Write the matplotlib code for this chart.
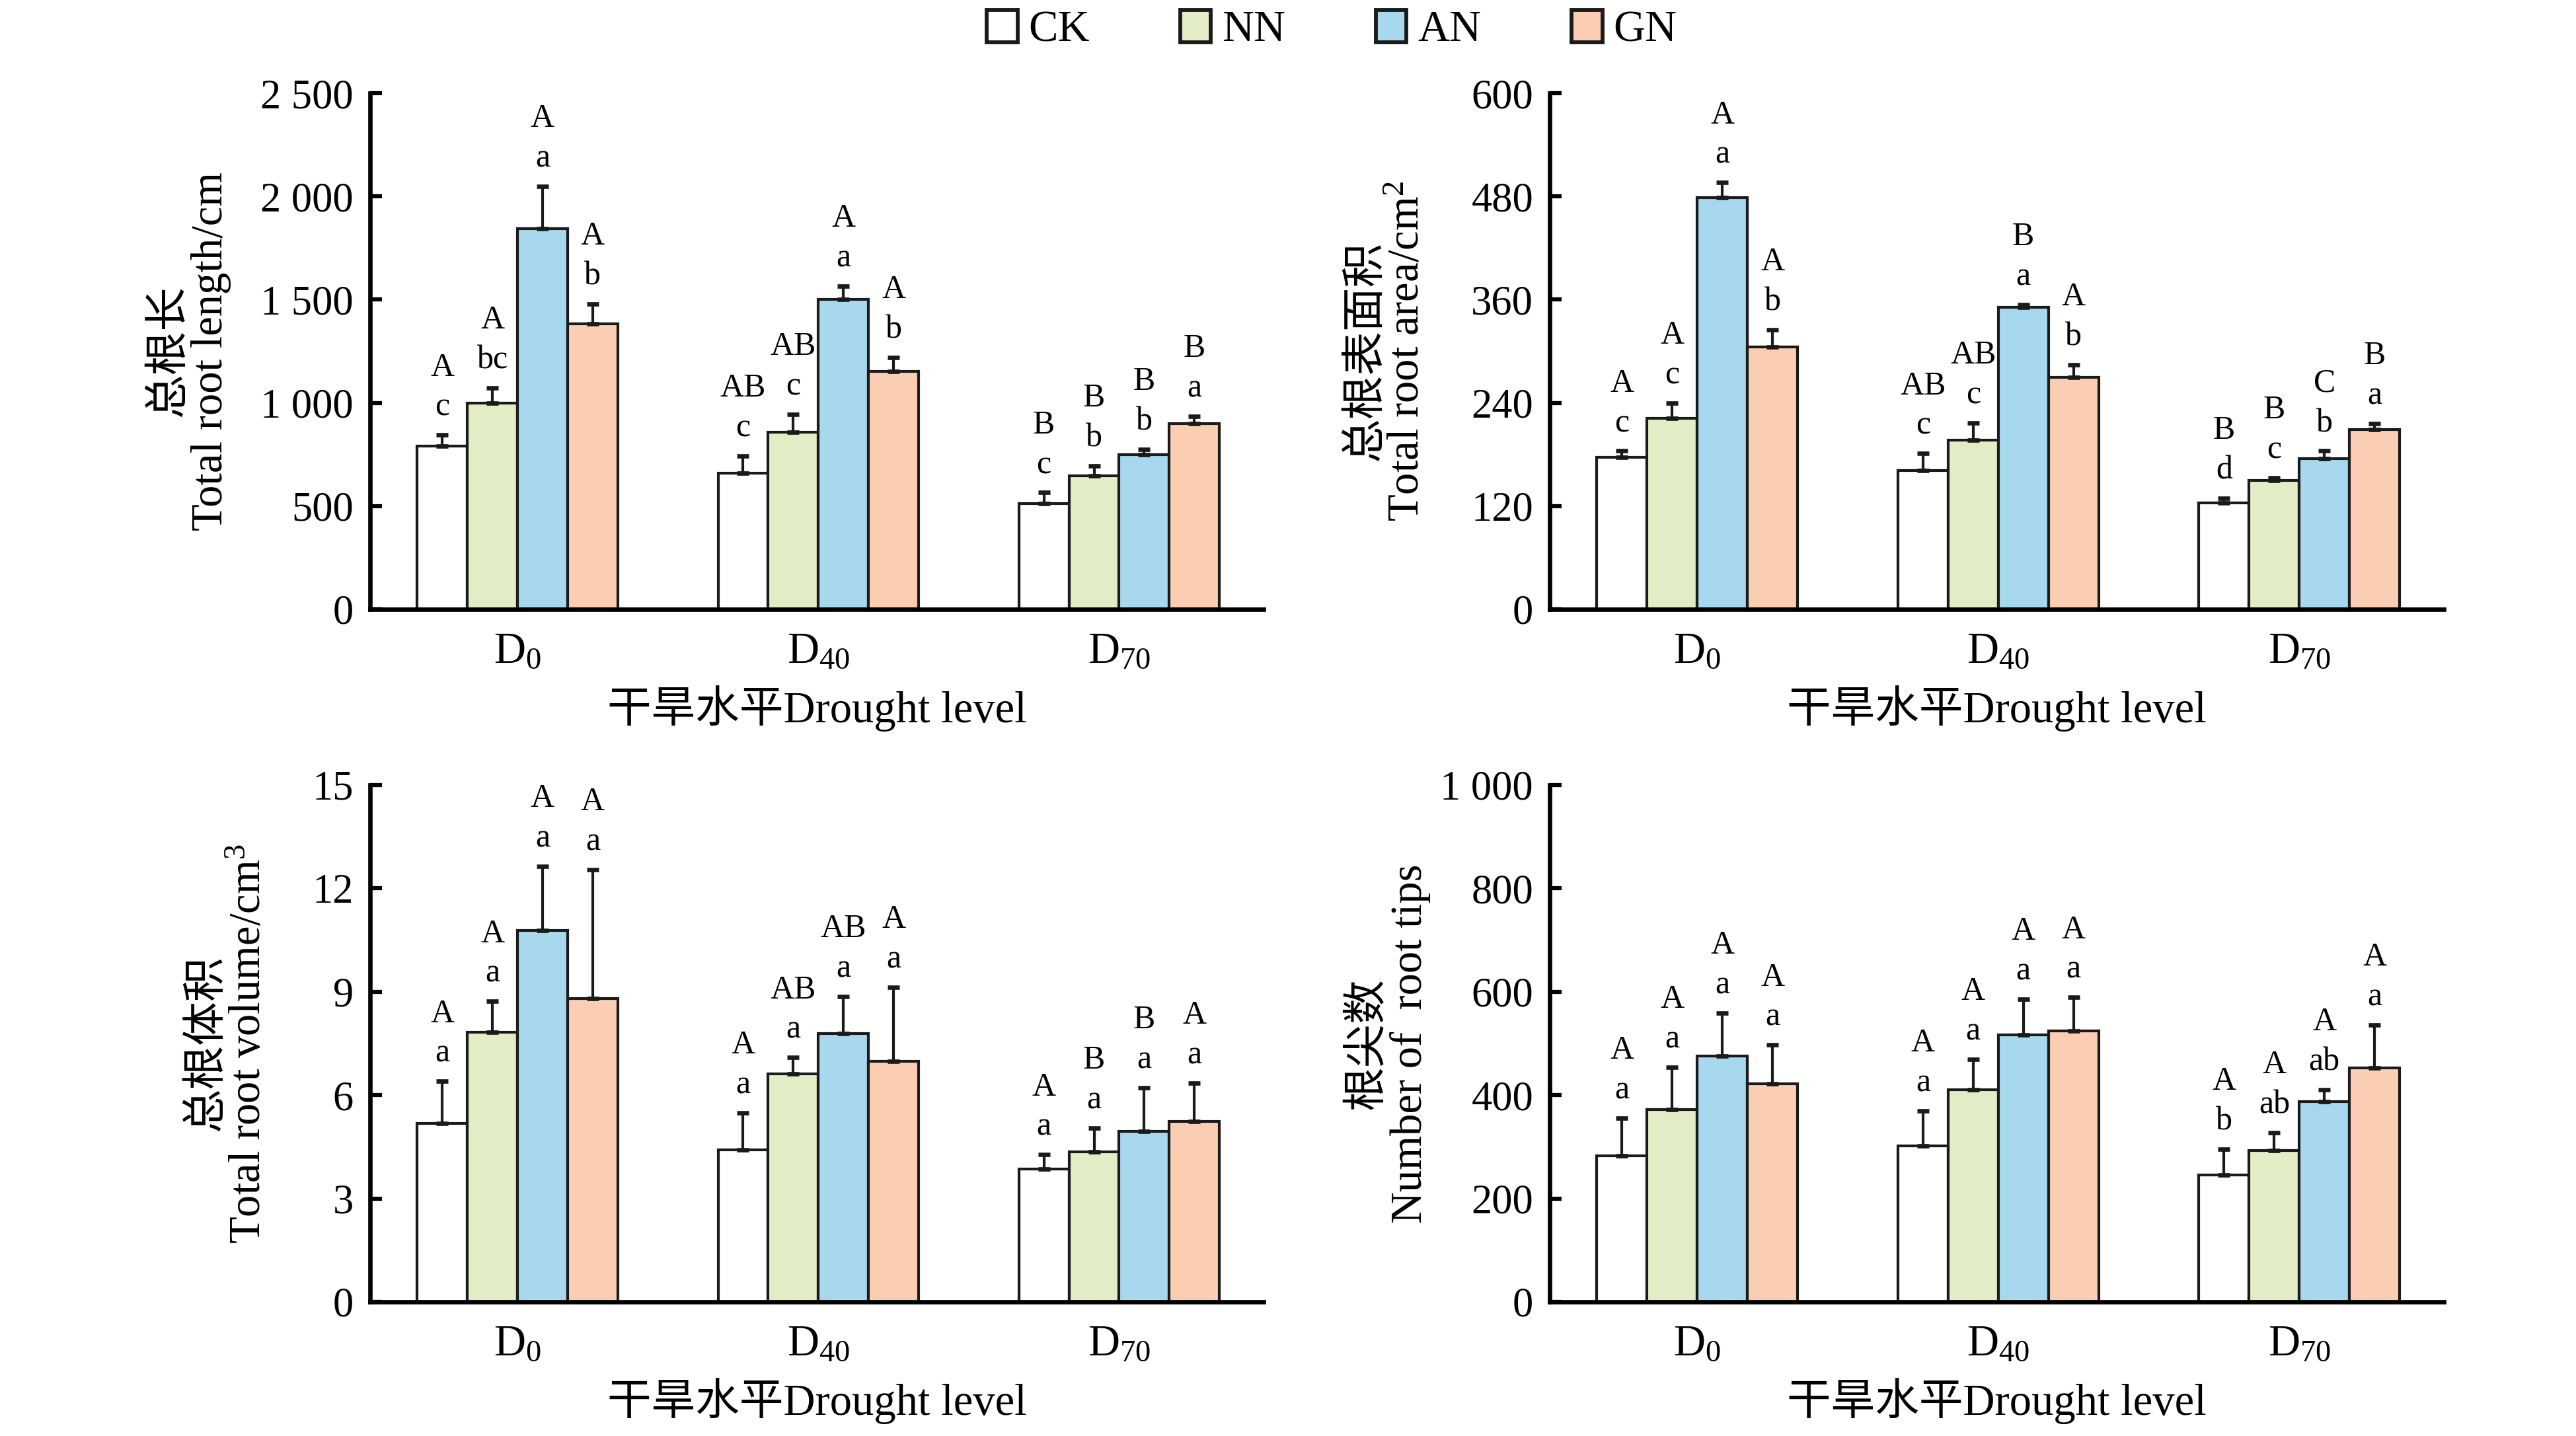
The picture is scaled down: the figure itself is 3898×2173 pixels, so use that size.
import numpy as np
import matplotlib
matplotlib.use("Agg")
import matplotlib.pyplot as plt
from matplotlib.patches import Patch
from matplotlib.ticker import FuncFormatter

plt.rcParams['font.family'] = ['Liberation Serif', 'Noto Sans CJK SC']
plt.rcParams['mathtext.fontset'] = 'custom'
plt.rcParams['mathtext.rm'] = 'Liberation Serif'
plt.rcParams['mathtext.it'] = 'Liberation Serif:italic'

levels = ["D$_{0}$", "D$_{40}$", "D$_{70}$"]
treatments = ["CK", "NN", "AN", "GN"]
colors = ["#FFFFFF", "#E3EDC5", "#A8D8EE", "#FBCDB3"]

# total root length (cm)
length_mean = {"CK": [791, 661, 513], "NN": [1000, 858, 647],
               "AN": [1844, 1501, 748], "GN": [1383, 1153, 899]}
length_err = {"CK": [53, 82, 52], "NN": [73, 87, 49],
              "AN": [204, 65, 26], "GN": [96, 68, 37]}
length_up = {"CK": ["A", "AB", "B"], "NN": ["A", "AB", "B"],
             "AN": ["A", "A", "B"], "GN": ["A", "A", "B"]}
length_low = {"CK": ["c", "c", "c"], "NN": ["bc", "c", "b"],
              "AN": ["a", "a", "b"], "GN": ["b", "b", "a"]}

# total root area (cm2)
area_mean = {"CK": [177, 161, 124], "NN": [222, 197, 150],
             "AN": [479, 351, 175], "GN": [305, 270, 209]}
area_err = {"CK": [7, 20, 5], "NN": [18, 20, 3],
            "AN": [17, 3, 9], "GN": [20, 14, 7]}
area_up = {"CK": ["A", "AB", "B"], "NN": ["A", "AB", "B"],
           "AN": ["A", "B", "C"], "GN": ["A", "A", "B"]}
area_low = {"CK": ["c", "c", "d"], "NN": ["c", "c", "c"],
            "AN": ["a", "a", "b"], "GN": ["b", "b", "a"]}

# total root volume (cm3)
volume_mean = {"CK": [5.18, 4.42, 3.85], "NN": [7.82, 6.61, 4.35],
               "AN": [10.78, 7.79, 4.94], "GN": [8.80, 6.98, 5.23]}
volume_err = {"CK": [1.22, 1.07, 0.42], "NN": [0.90, 0.48, 0.70],
              "AN": [1.87, 1.07, 1.28], "GN": [3.75, 2.16, 1.12]}
volume_up = {"CK": ["A", "A", "A"], "NN": ["A", "AB", "B"],
             "AN": ["A", "AB", "B"], "GN": ["A", "A", "A"]}
volume_low = {"CK": ["a", "a", "a"], "NN": ["a", "a", "a"],
              "AN": ["a", "a", "a"], "GN": ["a", "a", "a"]}

# number of root tips
tips_mean = {"CK": [283, 302, 245], "NN": [372, 410, 293],
             "AN": [476, 517, 388], "GN": [422, 524, 453]}
tips_err = {"CK": [73, 68, 50], "NN": [82, 59, 35],
            "AN": [83, 69, 23], "GN": [75, 65, 83]}
tips_up = {"CK": ["A", "A", "A"], "NN": ["A", "A", "A"],
           "AN": ["A", "A", "A"], "GN": ["A", "A", "A"]}
tips_low = {"CK": ["a", "a", "b"], "NN": ["a", "a", "ab"],
            "AN": ["a", "a", "ab"], "GN": ["a", "a", "a"]}

panels = [
    (length_mean, length_err, length_up, length_low,
     "总根长\nTotal root length/cm", [0, 500, 1000, 1500, 2000, 2500], -0.155),
    (area_mean, area_err, area_up, area_low,
     "总根表面积\nTotal root area/cm$^{2}$", [0, 120, 240, 360, 480, 600], -0.136),
    (volume_mean, volume_err, volume_up, volume_low,
     "总根体积\nTotal root volume/cm$^{3}$", [0, 3, 6, 9, 12, 15], -0.113),
    (tips_mean, tips_err, tips_up, tips_low,
     "根尖数\nNumber of  root tips", [0, 200, 400, 600, 800, 1000], -0.133),
]

W, H = 3898, 2173
fig = plt.figure(figsize=(W / 300, H / 300), dpi=300)

# axes boxes in pixels: left, right, top, bottom
boxes = [(560, 1912, 141, 922), (2345, 3698, 141, 922),
         (560, 1912, 1188, 1970), (2345, 3698, 1188, 1970)]


def thousands(v, pos):
    return "{:,}".format(int(round(v))).replace(",", " ")


x = np.arange(len(levels))
bw = 0.1667

for (mean, err, up, low, ylab, yt, labx), (l, r, t, b) in zip(panels, boxes):
    ax = fig.add_axes([l / W, 1 - b / H, (r - l) / W, (b - t) / H])
    for i, tr in enumerate(treatments):
        xpos = x + (i - 1.5) * bw
        m = np.array(mean[tr])
        e = np.array(err[tr])
        ax.bar(xpos, m, bw, color=colors[i], edgecolor="#1a1a1a", linewidth=1.0, zorder=2)
        ax.errorbar(xpos, m, yerr=[np.zeros_like(e), e], fmt="none",
                    ecolor="#1a1a1a", elinewidth=1.0, capsize=2.2, capthick=1.6, zorder=3)
        for j in range(len(levels)):
            top = m[j] + e[j]
            ax.annotate(low[tr][j], (xpos[j], top), xytext=(0, 10),
                        textcoords="offset points", ha="center", va="center", fontsize=12)
            ax.annotate(up[tr][j], (xpos[j], top), xytext=(0, 24.5),
                        textcoords="offset points", ha="center", va="center", fontsize=12)
    ax.set_xlim(-0.49, 2.48)
    ax.set_ylim(yt[0], yt[-1])
    ax.set_yticks(yt)
    ax.yaxis.set_major_formatter(FuncFormatter(thousands))
    ax.set_xticks(x)
    ax.set_xticklabels(levels, fontsize=16)
    ax.tick_params(axis="x", length=0, pad=8)
    ax.tick_params(axis="y", direction="in", length=4.3, width=1.5, labelsize=15, pad=6)
    for s in ["top", "right"]:
        ax.spines[s].set_visible(False)
    for s in ["left", "bottom"]:
        ax.spines[s].set_linewidth(1.6)
    ax.set_xlabel("干旱水平Drought level", fontsize=16, labelpad=5)
    ax.set_ylabel(ylab, fontsize=16, linespacing=1.05)
    ax.yaxis.set_label_coords(labx, 0.5)

handles = [Patch(facecolor=c, edgecolor="#1a1a1a", linewidth=1.4) for c in colors]
fig.legend(handles, treatments, loc="center", bbox_to_anchor=(0.517, 0.979), ncol=4,
           frameon=False, fontsize=16, handlelength=0.7, handleheight=0.75,
           handletextpad=0.25, columnspacing=2.05)

fig.savefig("out.png", dpi=300)
plt.close(fig)
